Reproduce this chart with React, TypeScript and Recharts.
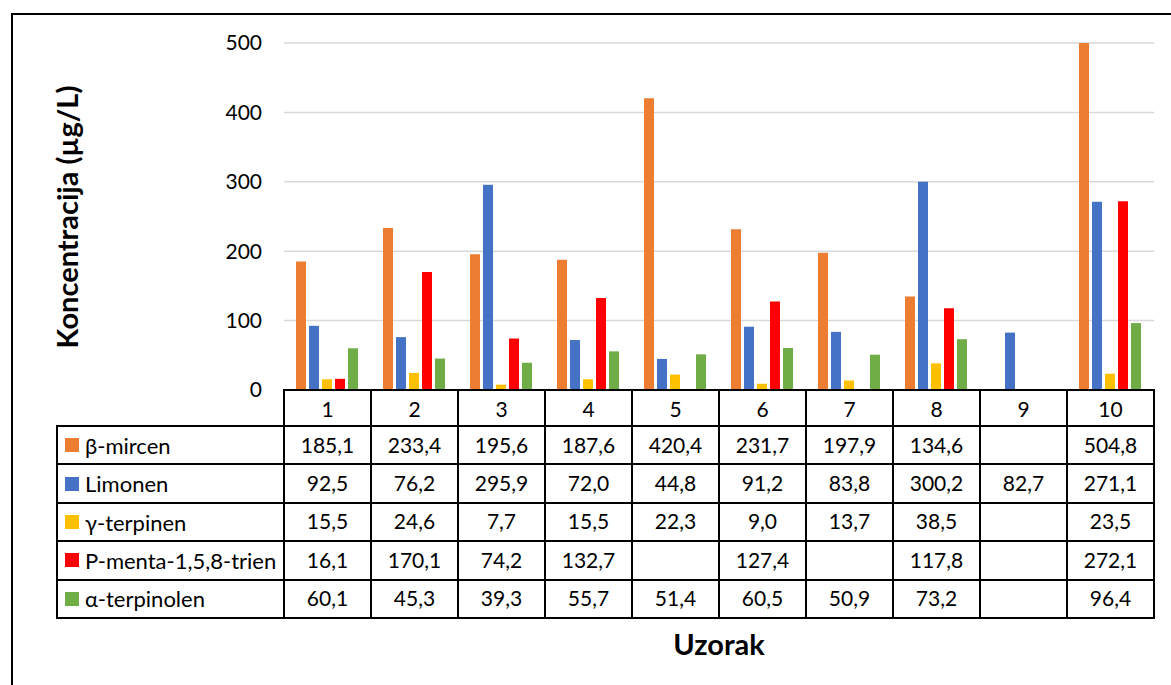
import { BarChart, Bar, XAxis, YAxis, CartesianGrid } from 'recharts';

const samples = ['1', '2', '3', '4', '5', '6', '7', '8', '9', '10'];
const mircen = [185.1, 233.4, 195.6, 187.6, 420.4, 231.7, 197.9, 134.6, null, 504.8];
const limonen = [92.5, 76.2, 295.9, 72.0, 44.8, 91.2, 83.8, 300.2, 82.7, 271.1];
const terpinen = [15.5, 24.6, 7.7, 15.5, 22.3, 9.0, 13.7, 38.5, null, 23.5];
const mentatrien = [16.1, 170.1, 74.2, 132.7, null, 127.4, null, 117.8, null, 272.1];
const terpinolen = [60.1, 45.3, 39.3, 55.7, 51.4, 60.5, 50.9, 73.2, null, 96.4];
const yTicks = [0, 100, 200, 300, 400, 500];

const series = [
  { key: 'mircen', name: 'β-mircen', color: '#ED7D31', values: mircen },
  { key: 'limonen', name: 'Limonen', color: '#4472C4', values: limonen },
  { key: 'terpinen', name: 'γ-terpinen', color: '#FFC000', values: terpinen },
  { key: 'mentatrien', name: 'P-menta-1,5,8-trien', color: '#FF0000', values: mentatrien },
  { key: 'terpinolen', name: 'α-terpinolen', color: '#70AD47', values: terpinolen },
];

const data = samples.map((s, i) => {
  const row: Record<string, any> = { sample: s };
  series.forEach((sr) => (row[sr.key] = sr.values[i]));
  return row;
});

const FONT = 'Lato, "Open Sans", sans-serif';
const fmt = (v: number | null) => (v == null ? '' : v.toFixed(1).replace('.', ','));

const PLOT_LEFT = 284;
const PLOT_RIGHT = 1154;
const PLOT_TOP = 43;
const PLOT_BOTTOM = 390;
const TABLE_LEFT = 57;
const HEADER_H = 36;
const ROW_H = 38.4;
const COL_W = (PLOT_RIGHT - PLOT_LEFT) / samples.length;
const BORDER = '2px solid #000';

export default function App() {
  return (
    <div
      style={{
        position: 'absolute',
        left: 0,
        top: 0,
        width: 1171,
        height: 685,
        overflow: 'hidden',
        background: '#fff',
        fontFamily: FONT,
        color: '#000',
      }}
    >
      {/* chart area frame, runs off the right and bottom like the original */}
      <div
        style={{
          position: 'absolute',
          left: 11,
          top: 13,
          width: 1200,
          height: 720,
          border: '2px solid #000',
          boxSizing: 'border-box',
        }}
      />

      <div style={{ position: 'absolute', left: 0, top: 0 }}>
        <BarChart
          width={1171}
          height={PLOT_BOTTOM + 20}
          data={data}
          margin={{ top: PLOT_TOP, right: 1171 - PLOT_RIGHT, bottom: 20, left: 0 }}
          barGap={3}
          barCategoryGap={12}
        >
          <CartesianGrid vertical={false} stroke="#D9D9D9" strokeWidth={1.5} />
          <XAxis dataKey="sample" hide />
          <YAxis
            width={PLOT_LEFT}
            domain={[0, 500]}
            ticks={yTicks}
            interval={0}
            allowDataOverflow
            tickLine={false}
            axisLine={false}
            tickMargin={16}
            tick={{ fill: '#000', fontSize: 21, fontFamily: FONT }}
          />
          {series.map((sr) => (
            <Bar
              key={sr.key}
              dataKey={sr.key}
              name={sr.name}
              fill={sr.color}
              isAnimationActive={false}
            />
          ))}
        </BarChart>
      </div>

      {/* y axis title */}
      <div
        style={{
          position: 'absolute',
          left: 66,
          top: 217,
          transform: 'translate(-50%, -50%) rotate(-90deg)',
          whiteSpace: 'nowrap',
          fontWeight: 700,
          fontSize: 29,
        }}
      >
        Koncentracija (µg/L)
      </div>

      {/* data table */}
      <table
        style={{
          position: 'absolute',
          left: TABLE_LEFT - 1,
          top: PLOT_BOTTOM - 1,
          borderCollapse: 'collapse',
          tableLayout: 'fixed',
          fontSize: 21,
          fontFamily: FONT,
        }}
      >
        <colgroup>
          <col style={{ width: PLOT_LEFT - TABLE_LEFT }} />
          {samples.map((s) => (
            <col key={s} style={{ width: COL_W }} />
          ))}
        </colgroup>
        <tbody>
          <tr style={{ height: HEADER_H }}>
            <td style={{ borderBottom: BORDER, padding: 0 }} />
            {samples.map((s) => (
              <td key={s} style={{ border: BORDER, textAlign: 'center', padding: 0 }}>
                {s}
              </td>
            ))}
          </tr>
          {series.map((sr) => (
            <tr key={sr.key} style={{ height: ROW_H }}>
              <td style={{ border: BORDER, padding: '0 0 0 7px', whiteSpace: 'nowrap' }}>
                <span
                  style={{
                    display: 'inline-block',
                    width: 14,
                    height: 14,
                    background: sr.color,
                    marginRight: 6,
                    verticalAlign: 'middle',
                    position: 'relative',
                    top: -1,
                  }}
                />
                <span style={{ verticalAlign: 'middle', fontSize: 22, position: 'relative', top: -1 }}>
                  {sr.name}
                </span>
              </td>
              {sr.values.map((v, i) => (
                <td key={i} style={{ border: BORDER, textAlign: 'center', padding: 0 }}>
                  <span style={{ position: 'relative', top: -1 }}>{fmt(v)}</span>
                </td>
              ))}
            </tr>
          ))}
        </tbody>
      </table>

      {/* x axis title */}
      <div
        style={{
          position: 'absolute',
          left: (PLOT_LEFT + PLOT_RIGHT) / 2,
          top: 643,
          transform: 'translate(-50%, -50%)',
          fontWeight: 700,
          fontSize: 29,
          whiteSpace: 'nowrap',
        }}
      >
        Uzorak
      </div>
    </div>
  );
}
